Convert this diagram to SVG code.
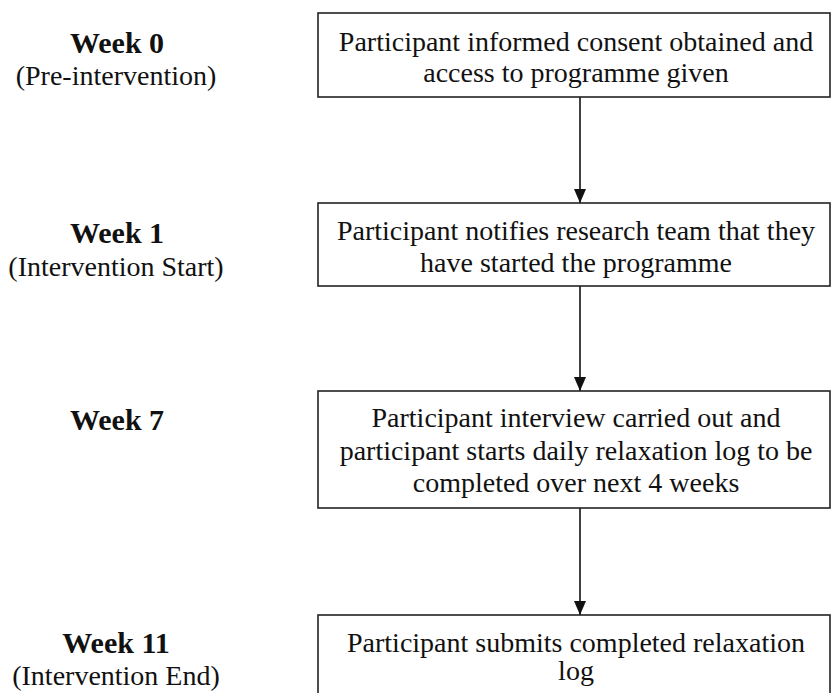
<svg xmlns="http://www.w3.org/2000/svg" width="832" height="693" viewBox="0 0 832 693">
<defs>
<style>
.box{fill:#fff;stroke:#222;stroke-width:1.6}
.t{font-family:"Liberation Serif","Times New Roman",serif;font-size:28px;fill:#111;text-anchor:middle}
.b{font-weight:bold;font-size:30px}
.c{stroke:#111;stroke-width:1.6;fill:none}
</style>
<marker id="ah" viewBox="0 0 14 12" refX="14" refY="6" markerWidth="14" markerHeight="12" markerUnits="userSpaceOnUse" orient="auto">
<path d="M0,0 L14,6 L0,12 Z" fill="#111"/>
</marker>
</defs>
<rect width="832" height="693" fill="#fff"/>
<g id="connectors">
<line class="c" x1="580" y1="97" x2="580" y2="203" marker-end="url(#ah)"/>
<line class="c" x1="580" y1="286" x2="580" y2="391" marker-end="url(#ah)"/>
<line class="c" x1="580" y1="508" x2="580" y2="615" marker-end="url(#ah)"/>
</g>
<g id="label-week0">
<text class="t b" x="117" y="53">Week 0</text>
<text class="t" x="116" y="85">(Pre-intervention)</text>
</g>
<g id="label-week1">
<text class="t b" x="117" y="243">Week 1</text>
<text class="t" x="116" y="276">(Intervention Start)</text>
</g>
<g id="label-week7">
<text class="t b" x="117" y="430">Week 7</text>
</g>
<g id="label-week11">
<text class="t b" x="116" y="653">Week 11</text>
<text class="t" x="116" y="685">(Intervention End)</text>
</g>
<g id="node1">
<rect class="box" x="318" y="13" width="512" height="84"/>
<text class="t" x="576" y="51">Participant informed consent obtained and</text>
<text class="t" x="576" y="82">access to programme given</text>
</g>
<g id="node2">
<rect class="box" x="318" y="203" width="512" height="83"/>
<text class="t" x="576" y="240">Participant notifies research team that they</text>
<text class="t" x="576" y="272">have started the programme</text>
</g>
<g id="node3">
<rect class="box" x="318" y="391" width="512" height="117"/>
<text class="t" x="576" y="427">Participant interview carried out and</text>
<text class="t" x="576" y="460">participant starts daily relaxation log to be</text>
<text class="t" x="576" y="492">completed over next 4 weeks</text>
</g>
<g id="node4">
<rect class="box" x="318" y="615" width="512" height="100"/>
<text class="t" x="576" y="652">Participant submits completed relaxation</text>
<text class="t" x="576" y="680">log</text>
</g>
</svg>
